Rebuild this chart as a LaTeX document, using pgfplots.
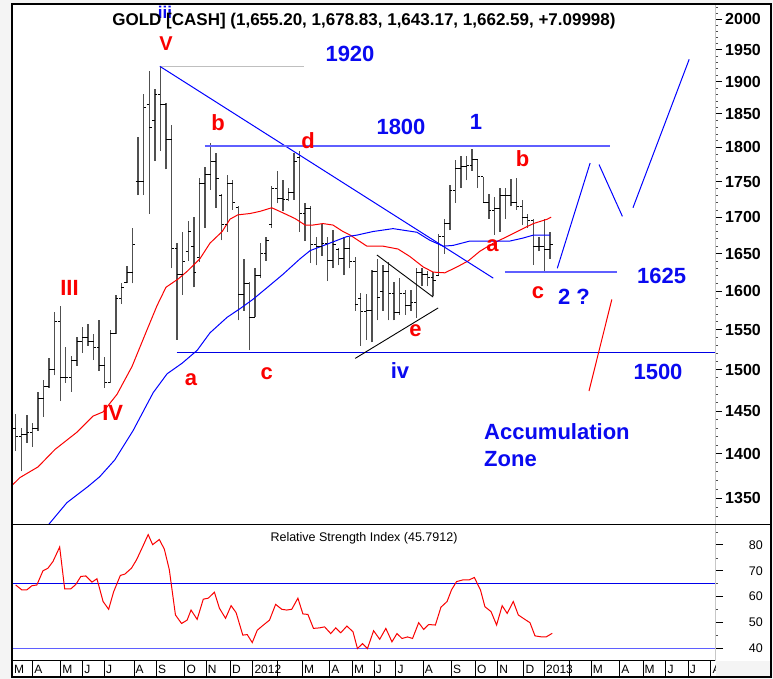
\documentclass[border=0pt]{standalone}
\usepackage{pgfplots}
\pgfplotsset{compat=1.18}
\usepackage{pgfplotstable}
\usepackage{fontspec}
\setmainfont{Liberation Sans}

\definecolor{bgg}{RGB}{244,244,244}
\definecolor{tblue}{RGB}{10,10,240}
\definecolor{tred}{RGB}{250,0,0}
\definecolor{lblue}{RGB}{95,95,255}
\definecolor{rblue}{RGB}{0,0,235}
\definecolor{barc}{RGB}{80,80,80}

\pgfdeclareplotmark{otick}{\pgfpathmoveto{\pgfpoint{-2.6pt}{0pt}}\pgfpathlineto{\pgfpointorigin}\pgfusepathqstroke}
\pgfdeclareplotmark{ctick}{\pgfpathmoveto{\pgfpointorigin}\pgfpathlineto{\pgfpoint{2.6pt}{0pt}}\pgfusepathqstroke}

% weekly OHLC bars (week index from early March 2011)
\pgfplotstableread{
i low high open close
0 1403 1446 1430 1420
1 1380 1430 1420 1423
2 1413 1445 1423 1425
3 1408 1436 1425 1430
4 1427 1473 1430 1465
5 1443 1487 1465 1480
6 1478 1515 1480 1500
7 1493 1573 1500 1560
8 1462 1580 1560 1490
9 1484 1528 1490 1490
10 1473 1517 1490 1512
11 1505 1541 1512 1535
12 1521 1553 1535 1540
13 1530 1557 1540 1535
14 1512 1545 1535 1528
15 1499 1563 1528 1505
16 1478 1516 1505 1485
17 1484 1550 1485 1545
18 1545 1595 1545 1590
19 1583 1610 1590 1605
20 1610 1633 1612 1625
21 1610 1685 1625 1663
22 1731 1816 1750 1750
23 1731 1881 1750 1860
24 1705 1916 1864 1830
25 1780 1888 1840 1880
26 1795 1925 1880 1865
27 1768 1866 1865 1812
28 1630 1834 1812 1657
29 1537 1665 1657 1622
30 1595 1680 1622 1640
31 1640 1695 1653 1680
32 1605 1700 1660 1625
33 1638 1756 1645 1748
34 1685 1771 1748 1760
35 1738 1806 1760 1780
36 1713 1792 1780 1755
37 1668 1732 1731 1690
38 1680 1760 1690 1748
39 1710 1752 1748 1720
40 1562 1716 1713 1595
41 1574 1643 1595 1610
42 1524 1612 1610 1566
43 1566 1630 1566 1620
44 1617 1664 1620 1650
45 1640 1673 1650 1668
46 1685 1744 1690 1740
47 1719 1765 1740 1727
48 1709 1752 1727 1725
49 1722 1741 1725 1735
50 1724 1792 1735 1780
51 1680 1795 1785 1705
52 1667 1720 1705 1712
53 1637 1716 1712 1662
54 1634 1673 1662 1660
55 1647 1691 1660 1664
56 1613 1673 1664 1641
57 1630 1682 1641 1662
58 1634 1658 1655 1643
59 1621 1673 1643 1657
60 1630 1673 1657 1640
61 1574 1645 1640 1582
62 1530 1598 1590 1573
63 1537 1596 1573 1575
64 1534 1628 1575 1626
65 1562 1643 1626 1592
66 1574 1635 1600 1626
67 1562 1638 1626 1597
68 1562 1612 1597 1572
69 1569 1617 1572 1597
70 1569 1601 1597 1581
71 1574 1601 1581 1585
72 1565 1630 1585 1625
73 1606 1630 1625 1622
74 1606 1626 1622 1618
75 1593 1625 1618 1614
76 1620 1677 1620 1673
77 1650 1697 1673 1691
78 1682 1745 1691 1738
79 1720 1781 1738 1770
80 1741 1788 1770 1772
81 1752 1788 1772 1773
82 1766 1797 1773 1782
83 1741 1781 1782 1757
84 1720 1757 1757 1720
85 1698 1733 1720 1710
86 1676 1728 1710 1712
87 1680 1741 1712 1730
88 1698 1741 1730 1731
89 1715 1754 1731 1720
90 1710 1756 1720 1715
91 1689 1724 1715 1700
92 1685 1705 1700 1696
93 1635 1698 1696 1660
94 1653 1673 1660 1660
95 1627 1697 1660 1655
96 1643.17 1678.83 1655.2 1662.59
}\ohlc

% red moving average
\pgfplotstableread{
x y
-0.7 1364
0.77 1373
4.0 1385
7.06 1405
11.0 1425
13.9 1444
15.7 1449
18.2 1470
20.9 1504
23.6 1550
25.4 1581
27.0 1605
29.2 1616
30.8 1626
33.1 1643
34.9 1664
37.1 1680
38.5 1697
39.9 1703
42.1 1705
43.9 1708
46.0 1713
48.0 1706
50.2 1698
52.0 1689
53.4 1689
55.2 1691
57.0 1689
58.8 1680
60.1 1675
63.1 1660
66.0 1660
68.7 1656
70.8 1646
73.2 1632
75.0 1625
77.1 1624
79.3 1632
81.3 1640
83.4 1653
85.8 1664
88.3 1673
90.6 1682
93.0 1691
95.5 1697
96.2 1700
}\mafast

% blue moving average
\pgfplotstableread{
x y
5.9 1321
9.2 1345
13.0 1363
15.1 1374
17.8 1393
21.1 1427
24.7 1472
27.2 1495
29.9 1508
32.6 1524
34.9 1546
38.0 1566
40.3 1577
42.6 1589
45.1 1604
48.0 1622
51.1 1643
52.9 1654
56.4 1664
59.5 1673
61.3 1675
64.2 1680
67.8 1684
72.1 1679
74.4 1668
76.8 1660
78.6 1661
81.6 1667
84.7 1667
88.8 1667
91.1 1671
93.0 1675
96.0 1675
}\maslow

% RSI
\pgfplotstableread{
x y
0 64.5
1.1 62.6
2.0 62.6
2.9 64.2
3.8 64.5
4.9 70.0
5.8 71.0
6.7 73.6
7.9 79.2
8.8 63.0
9.9 63.0
10.8 64.7
11.7 67.8
12.6 68.0
13.7 65.6
14.6 66.9
15.7 58.1
16.7 55.1
17.6 61.9
18.8 68.2
19.6 68.7
20.8 71.0
21.7 74.2
22.7 78.8
23.8 84.0
24.6 80.1
25.8 82.1
26.7 78.4
27.6 70.4
28.7 52.9
29.8 49.6
30.8 50.9
31.5 54.8
32.6 51.2
33.7 59.0
34.6 59.4
35.7 61.7
36.6 55.5
37.7 51.6
38.7 56.5
39.6 53.8
40.8 45.1
41.6 45.3
42.5 42.2
43.4 47.0
44.5 49.0
45.6 50.9
46.7 57.0
47.8 55.1
48.7 54.8
49.6 55.1
50.7 59.4
51.6 53.3
52.5 53.1
53.5 47.7
54.6 47.9
55.5 48.3
56.6 45.7
57.5 47.9
58.4 46.0
59.5 48.6
60.6 46.4
61.4 39.9
62.3 41.8
63.2 39.9
64.3 46.8
65.4 43.5
66.5 47.7
67.6 42.5
68.5 45.7
69.4 43.8
70.4 44.4
71.3 43.8
72.4 49.9
73.3 47.3
74.2 49.2
75.4 49.0
76.4 55.9
77.5 58.1
78.3 62.6
79.2 65.8
80.4 66.5
81.5 66.5
82.4 67.4
83.5 62.6
84.3 56.1
85.4 54.2
86.4 49.0
87.4 56.5
88.3 53.5
89.4 58.1
90.3 52.9
91.4 51.3
92.4 49.9
93.3 44.8
94.5 44.4
95.3 44.4
96.4 45.8
}\rsidata

\tikzset{ann/.style={inner sep=0pt, anchor=base, font=\fontsize{22}{24}\selectfont\bfseries}}

\begin{document}
\begin{tikzpicture}
\fill[bgg] (0pt,0pt) rectangle (773pt,679pt);
\fill[white] (12pt,2pt) rectangle (771pt,675pt);

% ---------- main price panel (logarithmic price scale) ----------
\begin{axis}[at={(12pt,155pt)}, anchor=south west, scale only axis,
  width=703pt, height=519pt,
  xmin=-0.665, xmax=125.64,
  y coord trafo/.code={\pgfmathparse{ln(#1)}},
  y coord inv trafo/.code={\pgfmathparse{exp(#1)}},
  ymin=1321.7, ymax=2023,
  axis line style={draw=none},
  xtick=\empty,
  ytick pos=right, yticklabel pos=right,
  ytick={1350,1400,1450,1500,1550,1600,1650,1700,1750,1800,1850,1900,1950,2000},
  yticklabels={1350,1400,1450,1500,1550,1600,1650,1700,1750,1800,1850,1900,1950,2000},
  minor ytick={1330,1340,1360,1370,1380,1390,1410,1420,1430,1440,1460,1470,1480,1490,1510,1520,1530,1540,1560,1570,1580,1590,1610,1620,1630,1640,1660,1670,1680,1690,1710,1720,1730,1740,1760,1770,1780,1790,1810,1820,1830,1840,1860,1870,1880,1890,1910,1920,1930,1940,1960,1970,1980,1990,2010,2020},
  tick align=outside, major tick length=7pt, minor tick length=3pt,
  major tick style={black, line width=0.9pt},
  minor tick style={black!70, line width=0.7pt},
  yticklabel style={font=\fontsize{16}{16}\selectfont\bfseries, anchor=west, inner sep=0pt, xshift=3pt},
]
\pgfplotsforeachungrouped \rr in {0,...,96}{%
  \pgfplotstablegetelem{\rr}{i}\of\ohlc \let\bx=\pgfplotsretval
  \pgfplotstablegetelem{\rr}{low}\of\ohlc \let\bl=\pgfplotsretval
  \pgfplotstablegetelem{\rr}{high}\of\ohlc \let\bh=\pgfplotsretval
  \edef\doit{\noexpand\addplot[barc, line width=1.4pt, forget plot] coordinates {(\bx,\bl) (\bx,\bh)};}%
  \doit
}
\addplot[only marks, black, mark=otick, mark options={line width=0.8pt}] table[x=i, y=open] {\ohlc};
\addplot[only marks, black, mark=ctick, mark options={line width=0.8pt}] table[x=i, y=close] {\ohlc};
\addplot[tred, line width=1pt] table[x=x, y=y] {\mafast};
\addplot[blue, line width=1pt] table[x=x, y=y] {\maslow};
% annotation lines
\addplot[black!25, line width=1pt] coordinates {(25.9,1924) (51.8,1924)};
\addplot[blue, line width=1pt] coordinates {(25.9,1924) (85.8,1617)};
\addplot[lblue, line width=2pt] coordinates {(34.0,1802) (106.8,1802)};
\addplot[lblue, line width=1.6pt] coordinates {(87.9,1625) (108.0,1625)};
\addplot[blue!90!black, line width=1.3pt] coordinates {(28.9,1521) (126,1521)};
\addplot[black, line width=0.9pt] coordinates {(64.9,1648) (75.0,1592)};
\addplot[black, line width=0.9pt] coordinates {(61.0,1514) (75.9,1578)};
\addplot[blue, line width=1pt] coordinates {(97.3,1630) (103.2,1777)};
\addplot[blue, line width=1pt] coordinates {(104.8,1775) (109.0,1701)};
\addplot[blue, line width=1pt] coordinates {(110.9,1713) (121.0,1935)};
\addplot[tred, line width=1pt] coordinates {(107.1,1589) (103.0,1474)};
\end{axis}

% ---------- RSI panel ----------
\begin{axis}[at={(12pt,18.3pt)}, anchor=south west, scale only axis,
  width=703pt, height=136.7pt,
  xmin=-0.665, xmax=125.64, ymin=35.2, ymax=88.1,
  axis line style={draw=none},
  xtick=\empty,
  ytick pos=right, yticklabel pos=right,
  ytick={40,50,60,70,80}, yticklabels={40,50,60,70,80},
  minor ytick={45,55,65,75,85},
  tick align=outside, major tick length=8pt, minor tick length=3pt,
  major tick style={black, line width=0.9pt},
  minor tick style={black!70, line width=0.7pt},
  yticklabel style={font=\fontsize{12.5}{12.5}\selectfont, anchor=east, inner sep=0pt, xshift=40pt},
]
\addplot[rblue, line width=1.1pt] coordinates {(-1,65) (126,65)};
\addplot[lblue, line width=1.5pt] coordinates {(-1,40) (126,40)};
\addplot[tred, line width=1pt] table[x=x, y=y] {\rsidata};
\end{axis}

% ---------- date band ----------
\begin{axis}[at={(12pt,2pt)}, anchor=south west, scale only axis,
  width=703pt, height=16.3pt,
  xmin=-0.665, xmax=125.64, ymin=0, ymax=1,
  axis line style={draw=none},
  ytick=\empty,
  xtick pos=bottom,
  xtick={-0.6,3.05,8.08,12.04,15.92,21.25,25.3,30.4,34.2,38.6,42.6,47.0,51.5,56.4,60.5,64.4,68.3,73.2,78.3,82.6,86.6,91.3,95.0,99.4,103.4,108.5,112.7,116.8,120.8,124.9},
  xticklabels={M,A,M,J,J,A,S,O,N,D,2012,{},M,A,M,J,J,A,S,O,N,D,2013,{},M,A,M,J,J,A},
  tick align=inside, major tick length=16.3pt,
  major tick style={black, line width=0.9pt},
  xticklabel style={font=\fontsize{12}{12}\selectfont, anchor=base west, inner sep=0pt, xshift=1.5pt, yshift=3.6pt},
]
\addplot[draw=none] coordinates {(0,0.5)};
\end{axis}

\begin{scope}[x=1pt,y=1pt]
% band right part, separators, right axis line
\fill[bgg] (715.5,2) rectangle (771,17.8);
\draw[black!22, line width=0.8pt] (715,18.3) -- (715,674);
\draw[black, line width=0.9pt] (12,155) -- (771,155);
\draw[black, line width=0.9pt] (12,18.3) -- (715,18.3);

% ---------- annotations ----------
\node[ann, font=\fontsize{17}{17}\selectfont\bfseries, text=tblue] at (165,660.7) {iii};
\node[inner sep=0pt, anchor=base, font=\fontsize{17}{17}\selectfont\bfseries] at (364,653) {GOLD [CASH] (1,655.20, 1,678.83, 1,643.17, 1,662.59, +7.09998)};
\node[ann, font=\fontsize{20}{22}\selectfont\bfseries, text=tred] at (166,628.3) {V};
\node[ann, text=tblue] at (350,617.3) {1920};
\node[ann, text=tred] at (218,548.3) {b};
\node[ann, text=tred] at (308,530.7) {d};
\node[ann, text=tblue] at (401,544) {1800};
\node[ann, text=tblue] at (476,549.7) {1};
\node[ann, text=tred] at (522.5,512.3) {b};
\node[ann, text=tred] at (492.5,427.3) {a};
\node[ann, text=tred] at (538,380.7) {c};
\node[ann, text=tblue] at (574,374) {2 ?};
\node[ann, text=tblue] at (661.7,395.7) {1625};
\node[ann, text=tblue] at (658,299.7) {1500};
\node[ann, anchor=base west, text=tblue] at (484,239) {Accumulation};
\node[ann, anchor=base west, text=tblue] at (484,212.3) {Zone};
\node[ann, text=tred] at (191,293) {a};
\node[ann, text=tred] at (266.7,299.7) {c};
\node[ann, text=tblue] at (400,300.7) {iv};
\node[ann, text=tred] at (69.5,383.3) {III};
\node[ann, text=tred] at (112.7,258.3) {IV};
\node[ann, text=tred] at (415.5,342.3) {e};
\node[inner sep=0pt, anchor=base, font=\fontsize{12.5}{13}\selectfont] at (364,137.3) {Relative Strength Index (45.7912)};

% frame
\draw[black, line width=2pt] (11.8,2) rectangle (771,675);
\end{scope}
\pgfresetboundingbox
\useasboundingbox (0pt,0pt) rectangle (773pt,679pt);
\end{tikzpicture}
\end{document}
